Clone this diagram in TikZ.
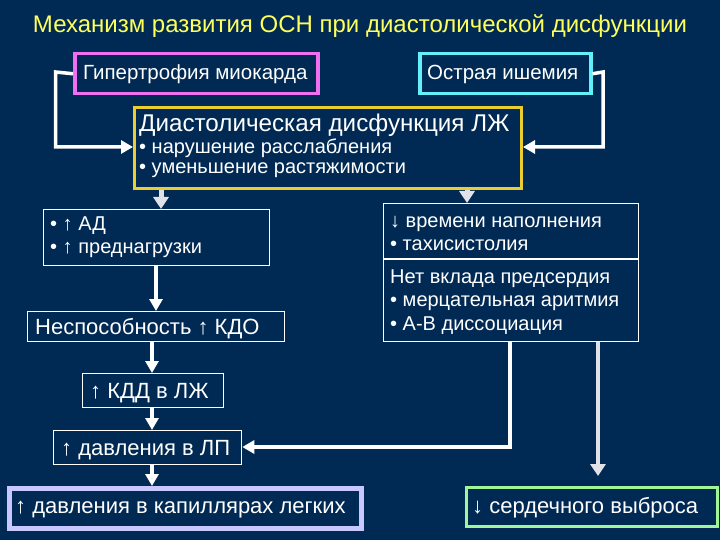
\documentclass[tikz,border=0pt]{standalone}
\usepackage{fontspec}
\setmainfont{Liberation Sans}
\usetikzlibrary{arrows.meta}
\definecolor{bg}{RGB}{0,42,84}
\definecolor{ttl}{RGB}{255,255,90}
\definecolor{pinkb}{RGB}{240,110,240}
\definecolor{cyanb}{RGB}{100,240,250}
\definecolor{yelb}{RGB}{235,205,50}
\definecolor{lavb}{RGB}{200,200,255}
\definecolor{grnb}{RGB}{160,245,150}
\definecolor{arrg}{RGB}{225,225,232}
\begin{document}
\begin{tikzpicture}[x=1pt,y=-1pt,
 box/.style={draw=white, line width=1.3pt, fill=bg, anchor=north west, inner sep=0pt},
 txt/.style={text=white, anchor=base west, inner sep=0pt, font=\fontsize{20}{22}\selectfont},
 bigtxt/.style={txt, font=\fontsize{22}{24}\selectfont},
 conn/.style={draw=white, line width=3.5pt},
 arr/.style={draw=white, line width=3.5pt, -{Triangle[width=13pt,length=12pt]}},
 garr/.style={draw=arrg, line width=5pt, -{Triangle[width=15pt,length=12pt]}}
]
\fill[bg] (0,0) rectangle (720,540);
\useasboundingbox (0,0) rectangle (720,540);

\node[text=ttl, anchor=base, inner sep=0pt, font=\fontsize{24}{27}\selectfont] (title) at (360,33) {Механизм развития ОСН при диастолической дисфункции};

% top boxes
\node[box, draw=pinkb, line width=3.5pt, minimum width=243pt, minimum height=40pt] (hyp) at (73,52) {};
\node[txt, font=\fontsize{20.5}{22}\selectfont] (thyp) at (83,79.5) {Гипертрофия миокарда};
\node[box, draw=cyanb, line width=3.5pt, minimum width=171pt, minimum height=40pt] (isch) at (418,52) {};
\node[txt, font=\fontsize{20.5}{22}\selectfont] (tisch) at (427,79.5) {Острая ишемия};

% LV box
\node[box, draw=yelb, line width=3pt, minimum width=387pt, minimum height=81pt] (lv) at (133,106) {};
\node[txt, font=\fontsize{24.2}{26}\selectfont] (tlv1) at (139,132) {Диастолическая дисфункция ЛЖ};
\node[txt] (tlv2) at (139,154) {• нарушение расслабления};
\node[txt] (tlv3) at (139,174) {• уменьшение растяжимости};

% left column
\node[box, minimum width=226pt, minimum height=56pt] (ad) at (43,209) {};
\node[txt] (tad1) at (50,230) {• ↑ АД};
\node[txt] (tad2) at (50,254) {• ↑ преднагрузки};

\node[box, minimum width=257pt, minimum height=30pt] (nesp) at (27,311) {};
\node[bigtxt] (tnesp) at (35,334) {Неспособность ↑ КДО};

\node[box, minimum width=141pt, minimum height=34pt] (kdd) at (82,373) {};
\node[bigtxt] (tkdd) at (90,398) {↑ КДД в ЛЖ};

\node[box, minimum width=188pt, minimum height=34pt] (lp) at (53,430) {};
\node[bigtxt] (tlp) at (61,455) {↑ давления в ЛП};

\node[box, draw=lavb, line width=4.5pt, minimum width=352pt, minimum height=40pt] (cap) at (7,486) {};
\node[bigtxt] (tcap) at (15,513) {↑ давления в капиллярах легких};

% right column
\node[box, minimum width=255pt, minimum height=138pt] (rb) at (383,203) {};
\draw[white, line width=1.3pt] (rb.west |- 0,259) -- (rb.east |- 0,259);
\node[txt] (trb1) at (390,227) {↓ времени наполнения};
\node[txt] (trb2) at (390,250) {• тахисистолия};
\node[txt] (trb3) at (390,283) {Нет вклада предсердия};
\node[txt] (trb4) at (390,306) {• мерцательная аритмия};
\node[txt] (trb5) at (390,330) {• А-В диссоциация};

\node[box, draw=grnb, line width=3pt, minimum width=251pt, minimum height=39pt] (co) at (465,486) {};
\node[bigtxt] (tco) at (472,513) {↓ сердечного выброса};

% connectors
\draw[arr] (hyp.west) -- (55.5,72) -- (55.5,147) -- (lv.west |- 0,147);
\draw[arr] (isch.east) -- (603,72) -- (603,147) -- (lv.east |- 0,147);
\draw[garr] (lv.south -| 161,0) -- (ad.north -| 161,0);
\draw[garr] (lv.south -| 467,0) -- (rb.north -| 467,0);
\draw[arr] (ad.south -| 156,0) -- (nesp.north -| 156,0);
\draw[arr] (nesp.south -| 152,0) -- (kdd.north -| 152,0);
\draw[arr] (kdd.south -| 152,0) -- (lp.north -| 152,0);
\draw[arr] (lp.south -| 152,0) -- (cap.north -| 152,0);
\draw[arr] (rb.south -| 510,0) -- (510,447) -- (lp.east |- 0,447);
\draw[garr, line width=4.5pt] (rb.south -| 598,0) -- (598,476);
\end{tikzpicture}
\end{document}
